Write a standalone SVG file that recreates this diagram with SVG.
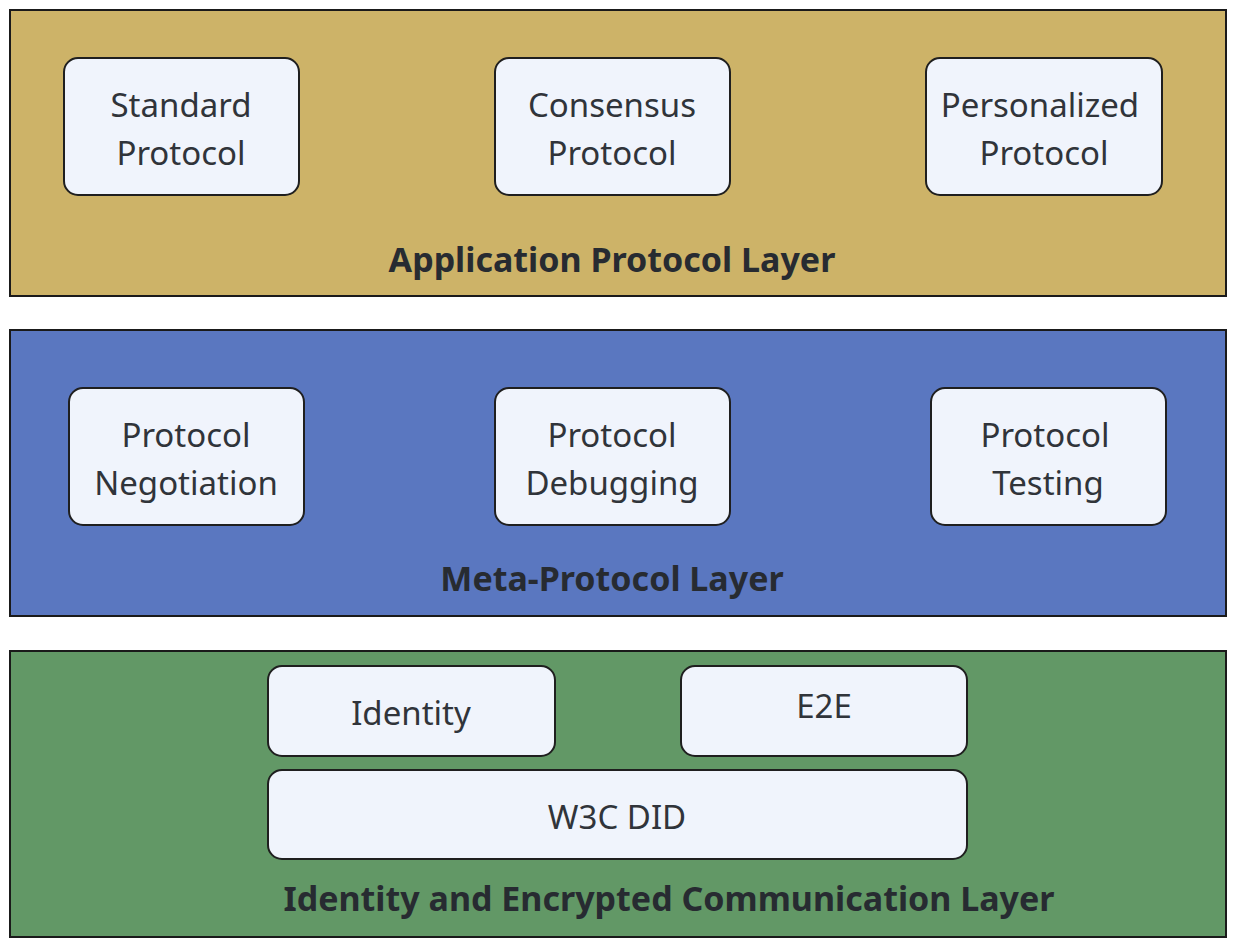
<svg xmlns="http://www.w3.org/2000/svg" width="1238" height="948" viewBox="0 0 1238 948">
<style>
.layer{stroke:#1a1a1a;stroke-width:2}
.node{fill:#F0F4FC;stroke:#1f1f1f;stroke-width:2}
.t{font-family:"Noto Sans","Open Sans",sans-serif;font-size:33px;fill:#30343a;text-anchor:middle}
.h{font-family:"Noto Sans","Open Sans",sans-serif;font-size:34px;font-weight:bold;fill:#272b31;text-anchor:middle}
</style>
<rect width="1238" height="948" fill="#ffffff"/>
<g id="layer-application">
<rect class="layer" x="10" y="10" width="1216" height="286" fill="#CDB368"/>
<text class="h" x="612" y="272">Application Protocol Layer</text>
</g>
<g id="layer-meta">
<rect class="layer" x="10" y="330" width="1216" height="286" fill="#5A77C0"/>
<text class="h" x="612" y="591">Meta-Protocol Layer</text>
</g>
<g id="layer-identity">
<rect class="layer" x="10" y="651" width="1216" height="286" fill="#629866"/>
<text class="h" x="669" y="911">Identity and Encrypted Communication Layer</text>
</g>
<g id="node-standard">
<rect class="node" x="64" y="58" width="235" height="137" rx="14"/>
<text class="t" x="181" y="117">Standard</text>
<text class="t" x="181" y="165">Protocol</text>
</g>
<g id="node-consensus">
<rect class="node" x="495" y="58" width="235" height="137" rx="14"/>
<text class="t" x="612" y="117">Consensus</text>
<text class="t" x="612" y="165">Protocol</text>
</g>
<g id="node-personalized">
<rect class="node" x="926" y="58" width="236" height="137" rx="14"/>
<text class="t" x="1040" y="117">Personalized</text>
<text class="t" x="1044" y="165">Protocol</text>
</g>
<g id="node-negotiation">
<rect class="node" x="69" y="388" width="235" height="137" rx="14"/>
<text class="t" x="186" y="447">Protocol</text>
<text class="t" x="186" y="495">Negotiation</text>
</g>
<g id="node-debugging">
<rect class="node" x="495" y="388" width="235" height="137" rx="14"/>
<text class="t" x="612" y="447">Protocol</text>
<text class="t" x="612" y="495">Debugging</text>
</g>
<g id="node-testing">
<rect class="node" x="931" y="388" width="235" height="137" rx="14"/>
<text class="t" x="1045" y="447">Protocol</text>
<text class="t" x="1048" y="495">Testing</text>
</g>
<g id="node-identity">
<rect class="node" x="268" y="666" width="287" height="90" rx="14"/>
<text class="t" x="411" y="725">Identity</text>
</g>
<g id="node-e2e">
<rect class="node" x="681" y="666" width="286" height="90" rx="14"/>
<text class="t" x="824" y="718">E2E</text>
</g>
<g id="node-w3cdid">
<rect class="node" x="268" y="770" width="699" height="89" rx="14"/>
<text class="t" x="617" y="829">W3C DID</text>
</g>
<g id="connectors"/>
</svg>
